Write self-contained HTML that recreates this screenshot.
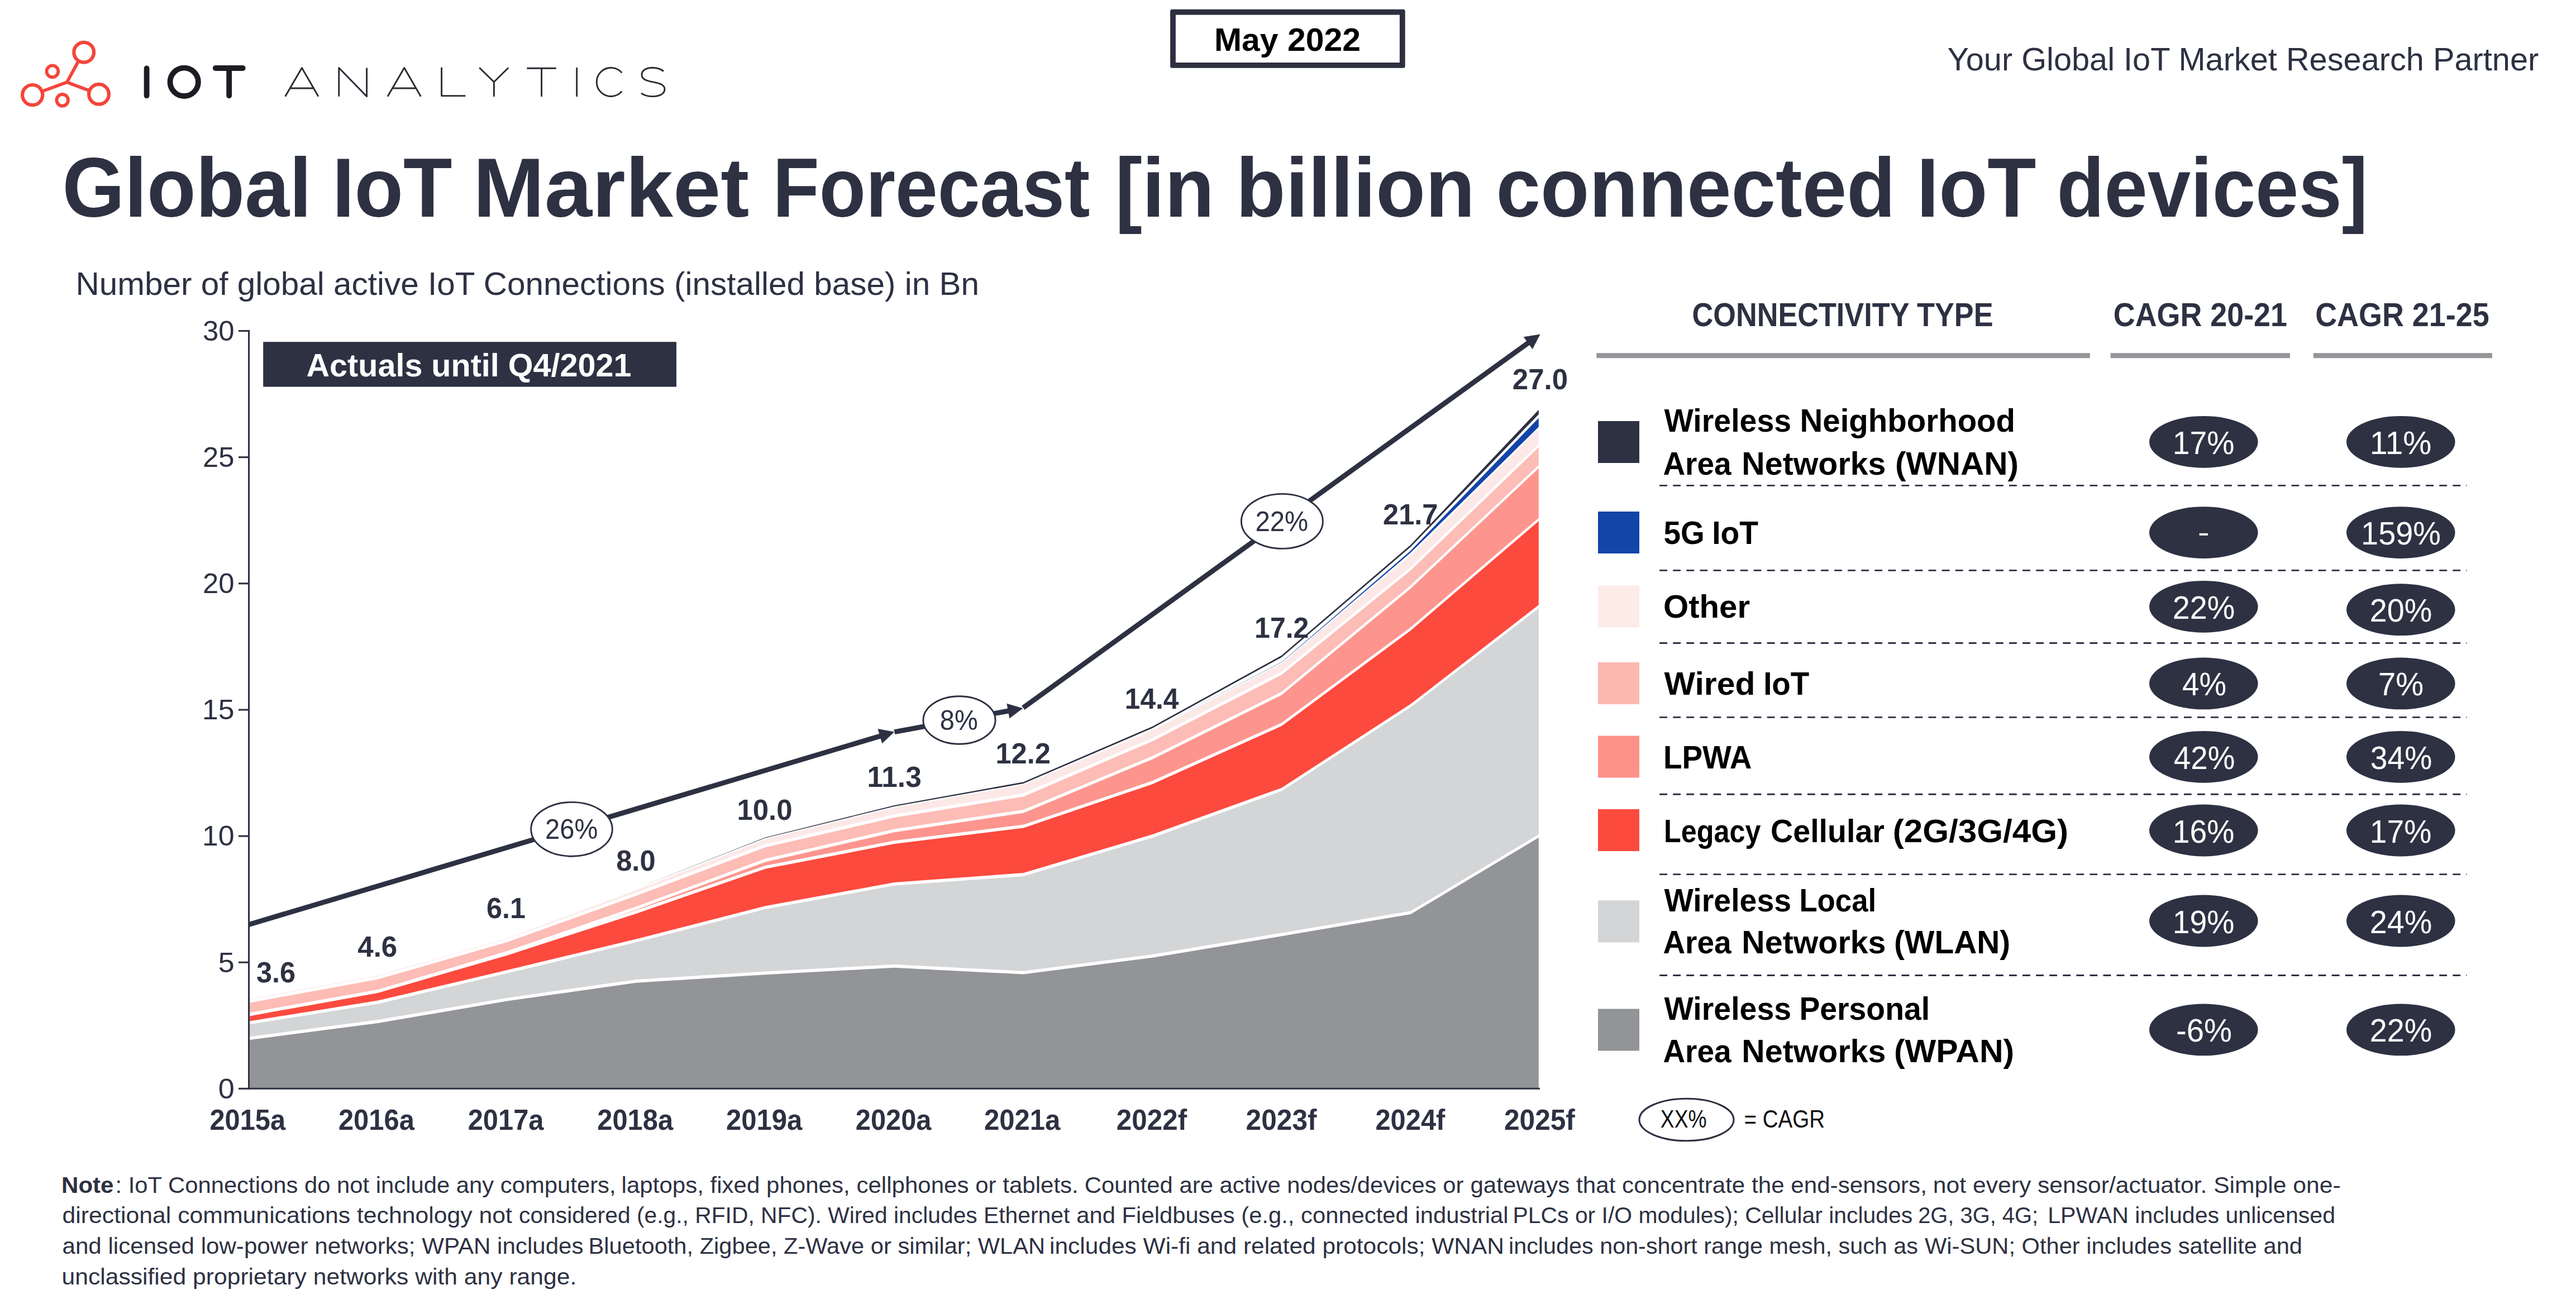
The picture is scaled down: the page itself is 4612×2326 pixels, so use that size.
<!DOCTYPE html>
<html lang="en"><head><meta charset="utf-8"><title>Global IoT Market Forecast</title>
<style>html,body{margin:0;padding:0;background:#fff}body{width:4612px;height:2326px;overflow:hidden}svg{display:block}text{font-family:"Liberation Sans",sans-serif}</style></head><body>
<svg width="4612" height="2326" viewBox="0 0 4612 2326">
<defs><clipPath id="plot"><rect x="447.2" y="500" width="2307.6" height="1448.5"/></clipPath></defs>
<rect width="4612" height="2326" fill="#fff"/>
<g fill="none" stroke="#f4453a" stroke-width="6.2" stroke-linecap="round">
<circle cx="150.2" cy="93.7" r="17.9"/>
<circle cx="93.9" cy="127.8" r="10.4" stroke-width="5.8"/>
<circle cx="58.2" cy="170.1" r="18.1"/>
<circle cx="111.7" cy="179.3" r="10.3" stroke-width="5.8"/>
<circle cx="177" cy="168.8" r="17.9"/>
<path d="M119.8 147.3 L140.6 109.2 M119.8 147.3 L75.2 163.6 M119.8 147.3 L160 162.2" stroke-width="5.8"/>
</g>
<g fill="none" stroke="#1c1c22" stroke-width="9.8" stroke-linecap="round" stroke-linejoin="round">
<path d="M262.6 122.4 V171.3"/>
<circle cx="329.7" cy="146.8" r="25.2"/>
<path d="M385.8 122 H434.7 M410.2 122 V171.3"/>
</g>
<g fill="none" stroke="#2a2a33" stroke-width="2.9" stroke-linecap="butt" stroke-linejoin="round">
<path d="M510.6 172.7 L540.5 121.6 L570 172.7 M519.5 158 H561.2"/>
<path d="M606.8 172.7 V121.4 L656.6 172.7 V121.4"/>
<path d="M694 172.7 L723.8 121.6 L753.4 172.7 M702.8 158 H744.6"/>
<path d="M790.6 120.7 V171.6 H833.4"/>
<path d="M858.2 121.2 L884.4 146.8 L910.2 121.2 M884.4 146.8 V173"/>
<path d="M943.4 122.2 H995.8 M969.6 122.2 V173"/>
<path d="M1032.7 121 V173"/>
<path d="M1113.4 130.4 A25.6 25.6 0 1 0 1113.4 163.4"/>
<path d="M1188 127.6 C1182 122.5 1175 121.2 1168 121.2 C1157 121.2 1149 126 1149 133.8 C1149 142 1157 144.5 1169 146.8 C1182 149.2 1190 152 1190 159.8 C1190 168 1181 172.6 1169 172.6 C1160 172.6 1153 170.5 1148 166.8"/>
</g>
<rect x="2095.1" y="16.8" width="420.6" height="105" rx="3.5" fill="#2e3040"/><rect x="2104.9" y="26.6" width="401" height="85.4" fill="#fff"/>
<text x="2173.97" y="91.0" font-size="57.5" font-weight="700" fill="#000" textLength="262.05" lengthAdjust="spacingAndGlyphs">May 2022</text>
<text x="3486.50" y="126.4" font-size="56.5" fill="#2d3142" textLength="1058.80" lengthAdjust="spacingAndGlyphs">Your Global IoT Market Research Partner</text>
<text x="111.43" y="387.6" font-size="150" font-weight="700" fill="#2d3142" textLength="446.46" lengthAdjust="spacingAndGlyphs">Global</text>
<text x="594.73" y="387.6" font-size="150" font-weight="700" fill="#2d3142" textLength="214.83" lengthAdjust="spacingAndGlyphs">IoT</text>
<text x="847.13" y="387.6" font-size="150" font-weight="700" fill="#2d3142" textLength="494.20" lengthAdjust="spacingAndGlyphs">Market</text>
<text x="1383.38" y="387.6" font-size="150" font-weight="700" fill="#2d3142" textLength="568.14" lengthAdjust="spacingAndGlyphs">Forecast</text>
<text x="1996.38" y="387.6" font-size="150" font-weight="700" fill="#2d3142" textLength="177.77" lengthAdjust="spacingAndGlyphs">[in</text>
<text x="2212.85" y="387.6" font-size="150" font-weight="700" fill="#2d3142" textLength="427.96" lengthAdjust="spacingAndGlyphs">billion</text>
<text x="2678.41" y="387.6" font-size="150" font-weight="700" fill="#2d3142" textLength="715.24" lengthAdjust="spacingAndGlyphs">connected</text>
<text x="3431.58" y="387.6" font-size="150" font-weight="700" fill="#2d3142" textLength="213.89" lengthAdjust="spacingAndGlyphs">IoT</text>
<text x="3682.50" y="387.6" font-size="150" font-weight="700" fill="#2d3142" textLength="556.53" lengthAdjust="spacingAndGlyphs">devices]</text>
<text x="135.48" y="528.3" font-size="56.5" fill="#2d3142" textLength="1617.53" lengthAdjust="spacingAndGlyphs">Number of global active IoT Connections (installed base) in Bn</text>
<g clip-path="url(#plot)">
<path d="M445.8 1859.2 L676.9 1829.0 L908.0 1789.6 L1139.1 1756.8 L1370.2 1742.4 L1601.3 1729.8 L1832.4 1741.7 L2063.5 1711.8 L2294.6 1673.4 L2525.7 1634.2 L2756.8 1495.7 L2756.8 1948.4 L2525.7 1948.4 L2294.6 1948.4 L2063.5 1948.4 L1832.4 1948.4 L1601.3 1948.4 L1370.2 1948.4 L1139.1 1948.4 L908.0 1948.4 L676.9 1948.4 L445.8 1948.4 Z" fill="#929497"/>
<path d="M445.8 1831.5 L676.9 1794.5 L908.0 1739.9 L1139.1 1684.4 L1370.2 1625.2 L1601.3 1582.9 L1832.4 1566.0 L2063.5 1497.0 L2294.6 1413.6 L2525.7 1263.4 L2756.8 1084.6 L2756.8 1495.7 L2525.7 1634.2 L2294.6 1673.4 L2063.5 1711.8 L1832.4 1741.7 L1601.3 1729.8 L1370.2 1742.4 L1139.1 1756.8 L908.0 1789.6 L676.9 1829.0 L445.8 1859.2 Z" fill="#d3d5d6"/>
<path d="M445.8 1816.5 L676.9 1774.9 L908.0 1707.8 L1139.1 1633.0 L1370.2 1552.8 L1601.3 1508.2 L1832.4 1479.7 L2063.5 1401.0 L2294.6 1297.1 L2525.7 1126.1 L2756.8 928.5 L2756.8 1084.6 L2525.7 1263.4 L2294.6 1413.6 L2063.5 1497.0 L1832.4 1566.0 L1601.3 1582.9 L1370.2 1625.2 L1139.1 1684.4 L908.0 1739.9 L676.9 1794.5 L445.8 1831.5 Z" fill="#fc4a3f"/>
<path d="M445.8 1816.5 L676.9 1774.9 L908.0 1706.0 L1139.1 1626.2 L1370.2 1540.5 L1601.3 1487.4 L1832.4 1452.8 L2063.5 1356.6 L2294.6 1241.6 L2525.7 1050.8 L2756.8 833.7 L2756.8 928.5 L2525.7 1126.1 L2294.6 1297.1 L2063.5 1401.0 L1832.4 1479.7 L1601.3 1508.2 L1370.2 1552.8 L1139.1 1633.0 L908.0 1707.8 L676.9 1774.9 L445.8 1816.5 Z" fill="#fd958e"/>
<path d="M445.8 1793.0 L676.9 1750.6 L908.0 1684.2 L1139.1 1601.1 L1370.2 1514.3 L1601.3 1461.2 L1832.4 1423.5 L2063.5 1324.3 L2294.6 1205.5 L2525.7 1018.4 L2756.8 796.0 L2756.8 833.7 L2525.7 1050.8 L2294.6 1241.6 L2063.5 1356.6 L1832.4 1452.8 L1601.3 1487.4 L1370.2 1540.5 L1139.1 1626.2 L908.0 1706.0 L676.9 1774.9 L445.8 1816.5 Z" fill="#fdbcb6"/>
<path d="M445.8 1787.8 L676.9 1745.4 L908.0 1679.0 L1139.1 1592.8 L1370.2 1501.9 L1601.3 1445.0 L1832.4 1404.2 L2063.5 1306.5 L2294.6 1187.2 L2525.7 992.8 L2756.8 765.5 L2756.8 796.0 L2525.7 1018.4 L2294.6 1205.5 L2063.5 1324.3 L1832.4 1423.5 L1601.3 1461.2 L1370.2 1514.3 L1139.1 1601.1 L908.0 1684.2 L676.9 1750.6 L445.8 1793.0 Z" fill="#fce9e7"/>
<path d="M445.8 1856.3 L676.9 1826.1 L908.0 1786.7 L1139.1 1753.9 L1370.2 1739.5 L1601.3 1726.9 L1832.4 1738.8 L2063.5 1708.9 L2294.6 1670.5 L2525.7 1631.3 L2756.8 1492.8 L2756.8 1498.6 L2525.7 1637.1 L2294.6 1676.3 L2063.5 1714.7 L1832.4 1744.6 L1601.3 1732.7 L1370.2 1745.3 L1139.1 1759.7 L908.0 1792.5 L676.9 1831.9 L445.8 1862.1 Z" fill="#fff"/>
<path d="M445.8 1828.6 L676.9 1791.6 L908.0 1737.0 L1139.1 1681.5 L1370.2 1622.3 L1601.3 1580.0 L1832.4 1563.1 L2063.5 1494.1 L2294.6 1410.7 L2525.7 1260.5 L2756.8 1081.7 L2756.8 1087.5 L2525.7 1266.3 L2294.6 1416.5 L2063.5 1499.9 L1832.4 1568.9 L1601.3 1585.8 L1370.2 1628.1 L1139.1 1687.3 L908.0 1742.8 L676.9 1797.4 L445.8 1834.4 Z" fill="#fff"/>
<path d="M445.8 1813.6 L676.9 1772.0 L908.0 1704.9 L1139.1 1630.1 L1370.2 1549.9 L1601.3 1505.3 L1832.4 1476.8 L2063.5 1398.1 L2294.6 1294.2 L2525.7 1123.2 L2756.8 925.6 L2756.8 931.4 L2525.7 1129.0 L2294.6 1300.0 L2063.5 1403.9 L1832.4 1482.6 L1601.3 1511.1 L1370.2 1555.7 L1139.1 1635.9 L908.0 1710.7 L676.9 1777.8 L445.8 1819.4 Z" fill="#fff"/>
<path d="M445.8 1813.6 L676.9 1772.0 L908.0 1703.1 L1139.1 1623.3 L1370.2 1537.6 L1601.3 1484.5 L1832.4 1449.9 L2063.5 1353.7 L2294.6 1238.7 L2525.7 1047.9 L2756.8 830.8 L2756.8 836.6 L2525.7 1053.7 L2294.6 1244.5 L2063.5 1359.5 L1832.4 1455.7 L1601.3 1490.3 L1370.2 1543.4 L1139.1 1629.1 L908.0 1708.9 L676.9 1777.8 L445.8 1819.4 Z" fill="#fff"/>
<path d="M445.8 1790.1 L676.9 1747.7 L908.0 1681.3 L1139.1 1598.2 L1370.2 1511.4 L1601.3 1458.3 L1832.4 1420.6 L2063.5 1321.4 L2294.6 1202.6 L2525.7 1015.5 L2756.8 793.1 L2756.8 798.9 L2525.7 1021.3 L2294.6 1208.4 L2063.5 1327.2 L1832.4 1426.4 L1601.3 1464.1 L1370.2 1517.2 L1139.1 1604.0 L908.0 1687.1 L676.9 1753.5 L445.8 1795.9 Z" fill="#fff"/>
<path d="M445.8 1786.6 L676.9 1744.2 L908.0 1677.8 L1139.1 1591.6 L1370.2 1500.7 L1601.3 1443.8 L1832.4 1403.0 L2063.5 1305.3 L2294.6 1186.0 L2525.7 991.6 L2756.8 764.3 L2756.8 766.7 L2525.7 994.0 L2294.6 1188.4 L2063.5 1307.7 L1832.4 1405.4 L1601.3 1446.2 L1370.2 1503.1 L1139.1 1594.0 L908.0 1680.2 L676.9 1746.6 L445.8 1789.0 Z" fill="#fff"/>
<path d="M445.8 1787.8 L676.9 1745.4 L908.0 1679.0 L1139.1 1592.8 L1370.2 1501.9 L1601.3 1445.0 L1832.4 1404.2 L2063.5 1305.2 L2294.6 1185.5 L2525.7 986.0 L2756.8 746.3 L2756.8 762.5 L2525.7 989.6 L2294.6 1186.0 L2063.5 1305.2 L1832.4 1404.2 L1601.3 1445.0 L1370.2 1501.9 L1139.1 1592.8 L908.0 1679.0 L676.9 1745.4 L445.8 1787.8 Z" fill="#1344a8"/>
<path d="M445.8 1786.0 L676.9 1743.5 L908.0 1677.0 L1139.1 1590.5 L1370.2 1499.6 L1601.3 1442.1 L1832.4 1400.2 L2063.5 1300.7 L2294.6 1173.6 L2525.7 975.5 L2756.8 731.7 L2756.8 739.8 L2525.7 979.3 L2294.6 1177.0 L2063.5 1303.7 L1832.4 1403.0 L1601.3 1444.0 L1370.2 1500.4 L1139.1 1590.5 L908.0 1677.0 L676.9 1743.5 L445.8 1786.0 Z" fill="#2d3142"/>
</g>
<g stroke="#2d3142" stroke-width="3.1" fill="none">
<path d="M445.6 590.9 V1950.8"/>
<path d="M444 1949.3 H2757"/>
<path d="M427 1949.3 H446"/>
<path d="M427 1723.2 H446"/>
<path d="M427 1497.1 H446"/>
<path d="M427 1271.0 H446"/>
<path d="M427 1044.8 H446"/>
<path d="M427 818.7 H446"/>
<path d="M427 592.5 H446"/>
</g>
<text x="390.65" y="1966.5" font-size="50" fill="#2d3142" textLength="29.02" lengthAdjust="spacingAndGlyphs">0</text>
<text x="390.71" y="1740.5" font-size="50" fill="#2d3142" textLength="29.02" lengthAdjust="spacingAndGlyphs">5</text>
<text x="362.02" y="1514.3" font-size="50" fill="#2d3142" textLength="57.68" lengthAdjust="spacingAndGlyphs">10</text>
<text x="362.06" y="1288.2" font-size="50" fill="#2d3142" textLength="57.64" lengthAdjust="spacingAndGlyphs">15</text>
<text x="363.10" y="1062.0" font-size="50" fill="#2d3142" textLength="56.55" lengthAdjust="spacingAndGlyphs">20</text>
<text x="363.08" y="835.9" font-size="50" fill="#2d3142" textLength="56.59" lengthAdjust="spacingAndGlyphs">25</text>
<text x="363.07" y="609.7" font-size="50" fill="#2d3142" textLength="56.63" lengthAdjust="spacingAndGlyphs">30</text>
<text x="375.42" y="2023.0" font-size="52" font-weight="700" fill="#2d3142" textLength="135.70" lengthAdjust="spacingAndGlyphs">2015a</text>
<text x="605.93" y="2023.0" font-size="52" font-weight="700" fill="#2d3142" textLength="136.00" lengthAdjust="spacingAndGlyphs">2016a</text>
<text x="837.74" y="2023.0" font-size="52" font-weight="700" fill="#2d3142" textLength="135.68" lengthAdjust="spacingAndGlyphs">2017a</text>
<text x="1069.22" y="2023.0" font-size="52" font-weight="700" fill="#2d3142" textLength="136.01" lengthAdjust="spacingAndGlyphs">2018a</text>
<text x="1300.03" y="2023.0" font-size="52" font-weight="700" fill="#2d3142" textLength="136.37" lengthAdjust="spacingAndGlyphs">2019a</text>
<text x="1531.81" y="2023.0" font-size="52" font-weight="700" fill="#2d3142" textLength="135.71" lengthAdjust="spacingAndGlyphs">2020a</text>
<text x="1762.03" y="2023.0" font-size="52" font-weight="700" fill="#2d3142" textLength="136.37" lengthAdjust="spacingAndGlyphs">2021a</text>
<text x="1998.83" y="2023.0" font-size="52" font-weight="700" fill="#2d3142" textLength="126.29" lengthAdjust="spacingAndGlyphs">2022f</text>
<text x="2230.62" y="2023.0" font-size="52" font-weight="700" fill="#2d3142" textLength="126.98" lengthAdjust="spacingAndGlyphs">2023f</text>
<text x="2462.42" y="2023.0" font-size="52" font-weight="700" fill="#2d3142" textLength="124.99" lengthAdjust="spacingAndGlyphs">2024f</text>
<text x="2692.92" y="2023.0" font-size="52" font-weight="700" fill="#2d3142" textLength="126.99" lengthAdjust="spacingAndGlyphs">2025f</text>
<rect x="471.2" y="612.2" width="739.8" height="80.4" fill="#2d3142"/>
<text x="548.50" y="674.2" font-size="56.8" font-weight="700" fill="#fff" textLength="582.11" lengthAdjust="spacingAndGlyphs">Actuals until Q4/2021</text>
<text x="459.02" y="1758.8" font-size="51.5" font-weight="700" fill="#2d3142" textLength="70.16" lengthAdjust="spacingAndGlyphs">3.6</text>
<text x="640.32" y="1713.0" font-size="51.5" font-weight="700" fill="#2d3142" textLength="70.86" lengthAdjust="spacingAndGlyphs">4.6</text>
<text x="871.02" y="1643.5" font-size="51.5" font-weight="700" fill="#2d3142" textLength="70.08" lengthAdjust="spacingAndGlyphs">6.1</text>
<text x="1103.20" y="1558.6" font-size="51.5" font-weight="700" fill="#2d3142" textLength="70.39" lengthAdjust="spacingAndGlyphs">8.0</text>
<text x="1319.43" y="1468.0" font-size="51.5" font-weight="700" fill="#2d3142" textLength="99.13" lengthAdjust="spacingAndGlyphs">10.0</text>
<text x="1552.45" y="1408.8" font-size="51.5" font-weight="700" fill="#2d3142" textLength="97.38" lengthAdjust="spacingAndGlyphs">11.3</text>
<text x="1782.45" y="1366.9" font-size="51.5" font-weight="700" fill="#2d3142" textLength="98.58" lengthAdjust="spacingAndGlyphs">12.2</text>
<text x="2013.82" y="1268.7" font-size="51.5" font-weight="700" fill="#2d3142" textLength="96.69" lengthAdjust="spacingAndGlyphs">14.4</text>
<text x="2246.07" y="1141.6" font-size="51.5" font-weight="700" fill="#2d3142" textLength="97.35" lengthAdjust="spacingAndGlyphs">17.2</text>
<text x="2476.00" y="939.0" font-size="51.5" font-weight="700" fill="#2d3142" textLength="98.52" lengthAdjust="spacingAndGlyphs">21.7</text>
<text x="2707.79" y="697.0" font-size="51.5" font-weight="700" fill="#2d3142" textLength="99.21" lengthAdjust="spacingAndGlyphs">27.0</text>
<path d="M445.7 1655.5 L1577.3 1317.6" stroke="#2d3142" stroke-width="9.0" fill="none"/>
<path d="M1601.3 1310.4 L1579.3 1331.2 L1571.5 1305.1 Z" fill="#2d3142"/>
<path d="M1601.5 1310.6 L1806.8 1272.7" stroke="#2d3142" stroke-width="9.0" fill="none"/>
<path d="M1831.4 1268.2 L1807.3 1286.5 L1802.4 1259.7 Z" fill="#2d3142"/>
<path d="M1831.8 1267.4 L2737.3 613.1" stroke="#2d3142" stroke-width="9.0" fill="none"/>
<path d="M2757.6 598.5 L2743.7 625.3 L2727.7 603.3 Z" fill="#2d3142"/>
<ellipse cx="1023.5" cy="1484.8" rx="72.8" ry="48.4" fill="#fff" stroke="#2d3142" stroke-width="2.9"/>
<text x="976.02" y="1502.0" font-size="50" fill="#2d3142" textLength="94.29" lengthAdjust="spacingAndGlyphs">26%</text>
<ellipse cx="1717.5" cy="1289.5" rx="64.6" ry="42.8" fill="#fff" stroke="#2d3142" stroke-width="2.9"/>
<text x="1682.75" y="1306.8" font-size="50" fill="#2d3142" textLength="67.97" lengthAdjust="spacingAndGlyphs">8%</text>
<ellipse cx="2295.4" cy="933.4" rx="73.0" ry="49.0" fill="#fff" stroke="#2d3142" stroke-width="2.9"/>
<text x="2247.38" y="950.8" font-size="50" fill="#2d3142" textLength="94.85" lengthAdjust="spacingAndGlyphs">22%</text>
<text x="3029.59" y="583.8" font-size="58.8" font-weight="700" fill="#2d3142" textLength="538.91" lengthAdjust="spacingAndGlyphs">CONNECTIVITY TYPE</text>
<text x="3783.79" y="583.8" font-size="58.8" font-weight="700" fill="#2d3142" textLength="311.23" lengthAdjust="spacingAndGlyphs">CAGR 20-21</text>
<text x="4145.20" y="583.8" font-size="58.8" font-weight="700" fill="#2d3142" textLength="311.50" lengthAdjust="spacingAndGlyphs">CAGR 21-25</text>
<rect x="2858.3" y="632.2" width="883.5" height="9" fill="#929497"/>
<rect x="3778.7" y="632.2" width="321.3" height="9" fill="#929497"/>
<rect x="4141.8" y="632.2" width="320.1" height="9" fill="#929497"/>
<rect x="2861.0" y="754.0" width="74.0" height="75.0" fill="#2d3142"/>
<text x="2979.49" y="772.5" font-size="57.5" font-weight="700" fill="#000" textLength="227.60" lengthAdjust="spacingAndGlyphs">Wireless</text>
<text x="3222.56" y="772.5" font-size="57.5" font-weight="700" fill="#000" textLength="385.48" lengthAdjust="spacingAndGlyphs">Neighborhood</text>
<text x="2977.42" y="849.5" font-size="57.5" font-weight="700" fill="#000" textLength="122.18" lengthAdjust="spacingAndGlyphs">Area</text>
<text x="3118.37" y="849.5" font-size="57.5" font-weight="700" fill="#000" textLength="258.15" lengthAdjust="spacingAndGlyphs">Networks</text>
<text x="3392.88" y="849.5" font-size="57.5" font-weight="700" fill="#000" textLength="221.14" lengthAdjust="spacingAndGlyphs">(WNAN)</text>
<ellipse cx="3945.3" cy="791.3" rx="97.3" ry="46.4" fill="#2d3142"/>
<text x="3889.77" y="812.8" font-size="58" fill="#fff" textLength="110.65" lengthAdjust="spacingAndGlyphs">17%</text>
<ellipse cx="4298.3" cy="791.3" rx="97.3" ry="46.4" fill="#2d3142"/>
<text x="4242.75" y="812.8" font-size="58" fill="#fff" textLength="110.66" lengthAdjust="spacingAndGlyphs">11%</text>
<rect x="2861.0" y="916.0" width="74.0" height="75.0" fill="#1344a8"/>
<text x="2978.44" y="973.8" font-size="57.5" font-weight="700" fill="#000" textLength="73.24" lengthAdjust="spacingAndGlyphs">5G</text>
<text x="3065.17" y="973.8" font-size="57.5" font-weight="700" fill="#000" textLength="82.83" lengthAdjust="spacingAndGlyphs">IoT</text>
<ellipse cx="3945.3" cy="953.6" rx="97.3" ry="46.4" fill="#2d3142"/>
<rect x="3937.6" y="954.9" width="15.4" height="3.9" fill="#fff"/>
<ellipse cx="4298.3" cy="953.6" rx="97.3" ry="46.4" fill="#2d3142"/>
<text x="4227.08" y="975.1" font-size="58" fill="#fff" textLength="143.01" lengthAdjust="spacingAndGlyphs">159%</text>
<rect x="2861.0" y="1048.4" width="74.0" height="75.0" fill="#fdebe8"/>
<text x="2978.01" y="1106.0" font-size="57.5" font-weight="700" fill="#000" textLength="155.10" lengthAdjust="spacingAndGlyphs">Other</text>
<ellipse cx="3945.3" cy="1086.3" rx="97.3" ry="46.4" fill="#2d3142"/>
<text x="3889.81" y="1107.8" font-size="58" fill="#fff" textLength="111.57" lengthAdjust="spacingAndGlyphs">22%</text>
<ellipse cx="4298.3" cy="1091.7" rx="97.3" ry="46.4" fill="#2d3142"/>
<text x="4242.81" y="1113.2" font-size="58" fill="#fff" textLength="111.57" lengthAdjust="spacingAndGlyphs">20%</text>
<rect x="2861.0" y="1186.0" width="74.0" height="75.0" fill="#fdb7b1"/>
<text x="2979.52" y="1243.7" font-size="57.5" font-weight="700" fill="#000" textLength="162.91" lengthAdjust="spacingAndGlyphs">Wired</text>
<text x="3157.13" y="1243.7" font-size="57.5" font-weight="700" fill="#000" textLength="82.24" lengthAdjust="spacingAndGlyphs">IoT</text>
<ellipse cx="3945.3" cy="1223.9" rx="97.3" ry="46.4" fill="#2d3142"/>
<text x="3907.09" y="1245.4" font-size="58" fill="#fff" textLength="79.02" lengthAdjust="spacingAndGlyphs">4%</text>
<ellipse cx="4298.3" cy="1223.9" rx="97.3" ry="46.4" fill="#2d3142"/>
<text x="4258.02" y="1245.4" font-size="58" fill="#fff" textLength="81.12" lengthAdjust="spacingAndGlyphs">7%</text>
<rect x="2861.0" y="1317.5" width="74.0" height="75.0" fill="#fd918a"/>
<text x="2977.95" y="1375.9" font-size="57.5" font-weight="700" fill="#000" textLength="158.58" lengthAdjust="spacingAndGlyphs">LPWA</text>
<ellipse cx="3945.3" cy="1355.3" rx="97.3" ry="46.4" fill="#2d3142"/>
<text x="3891.86" y="1376.8" font-size="58" fill="#fff" textLength="109.50" lengthAdjust="spacingAndGlyphs">42%</text>
<ellipse cx="4298.3" cy="1355.3" rx="97.3" ry="46.4" fill="#2d3142"/>
<text x="4243.85" y="1376.8" font-size="58" fill="#fff" textLength="110.52" lengthAdjust="spacingAndGlyphs">34%</text>
<rect x="2861.0" y="1449.0" width="74.0" height="75.0" fill="#fc4a3f"/>
<text x="2979.02" y="1507.5" font-size="57.5" font-weight="700" fill="#000" textLength="173.49" lengthAdjust="spacingAndGlyphs">Legacy</text>
<text x="3170.10" y="1507.5" font-size="57.5" font-weight="700" fill="#000" textLength="203.90" lengthAdjust="spacingAndGlyphs">Cellular</text>
<text x="3388.68" y="1507.5" font-size="57.5" font-weight="700" fill="#000" textLength="314.35" lengthAdjust="spacingAndGlyphs">(2G/3G/4G)</text>
<ellipse cx="3945.3" cy="1487.0" rx="97.3" ry="46.4" fill="#2d3142"/>
<text x="3889.77" y="1508.5" font-size="58" fill="#fff" textLength="110.65" lengthAdjust="spacingAndGlyphs">16%</text>
<ellipse cx="4298.3" cy="1487.0" rx="97.3" ry="46.4" fill="#2d3142"/>
<text x="4242.77" y="1508.5" font-size="58" fill="#fff" textLength="110.65" lengthAdjust="spacingAndGlyphs">17%</text>
<rect x="2861.0" y="1612.4" width="74.0" height="75.0" fill="#d3d5d6"/>
<text x="2979.49" y="1632.2" font-size="57.5" font-weight="700" fill="#000" textLength="227.60" lengthAdjust="spacingAndGlyphs">Wireless</text>
<text x="3221.40" y="1632.2" font-size="57.5" font-weight="700" fill="#000" textLength="137.81" lengthAdjust="spacingAndGlyphs">Local</text>
<text x="2977.42" y="1707.4" font-size="57.5" font-weight="700" fill="#000" textLength="122.18" lengthAdjust="spacingAndGlyphs">Area</text>
<text x="3118.37" y="1707.4" font-size="57.5" font-weight="700" fill="#000" textLength="258.15" lengthAdjust="spacingAndGlyphs">Networks</text>
<text x="3390.96" y="1707.4" font-size="57.5" font-weight="700" fill="#000" textLength="208.18" lengthAdjust="spacingAndGlyphs">(WLAN)</text>
<ellipse cx="3945.3" cy="1649.0" rx="97.3" ry="46.4" fill="#2d3142"/>
<text x="3889.77" y="1670.5" font-size="58" fill="#fff" textLength="110.65" lengthAdjust="spacingAndGlyphs">19%</text>
<ellipse cx="4298.3" cy="1649.0" rx="97.3" ry="46.4" fill="#2d3142"/>
<text x="4242.81" y="1670.5" font-size="58" fill="#fff" textLength="111.57" lengthAdjust="spacingAndGlyphs">24%</text>
<rect x="2861.0" y="1806.5" width="74.0" height="75.0" fill="#929497"/>
<text x="2979.49" y="1825.6" font-size="57.5" font-weight="700" fill="#000" textLength="227.60" lengthAdjust="spacingAndGlyphs">Wireless</text>
<text x="3221.43" y="1825.6" font-size="57.5" font-weight="700" fill="#000" textLength="233.64" lengthAdjust="spacingAndGlyphs">Personal</text>
<text x="2977.42" y="1902.4" font-size="57.5" font-weight="700" fill="#000" textLength="122.18" lengthAdjust="spacingAndGlyphs">Area</text>
<text x="3118.37" y="1902.4" font-size="57.5" font-weight="700" fill="#000" textLength="258.15" lengthAdjust="spacingAndGlyphs">Networks</text>
<text x="3390.97" y="1902.4" font-size="57.5" font-weight="700" fill="#000" textLength="215.17" lengthAdjust="spacingAndGlyphs">(WPAN)</text>
<ellipse cx="3945.3" cy="1843.9" rx="97.3" ry="46.4" fill="#2d3142"/>
<text x="3896.01" y="1865.4" font-size="58" fill="#fff" textLength="100.16" lengthAdjust="spacingAndGlyphs">-6%</text>
<ellipse cx="4298.3" cy="1843.9" rx="97.3" ry="46.4" fill="#2d3142"/>
<text x="4242.81" y="1865.4" font-size="58" fill="#fff" textLength="111.57" lengthAdjust="spacingAndGlyphs">22%</text>
<path d="M2971.2 869.4 H4416.4" stroke="#2d3142" stroke-width="2.9" stroke-dasharray="13.8 10.27" fill="none"/>
<path d="M2971.2 1021.4 H4416.4" stroke="#2d3142" stroke-width="2.9" stroke-dasharray="13.8 10.27" fill="none"/>
<path d="M2971.2 1151.5 H4416.4" stroke="#2d3142" stroke-width="2.9" stroke-dasharray="13.8 10.27" fill="none"/>
<path d="M2971.2 1284.4 H4416.4" stroke="#2d3142" stroke-width="2.9" stroke-dasharray="13.8 10.27" fill="none"/>
<path d="M2971.2 1422.2 H4416.4" stroke="#2d3142" stroke-width="2.9" stroke-dasharray="13.8 10.27" fill="none"/>
<path d="M2971.2 1565.6 H4416.4" stroke="#2d3142" stroke-width="2.9" stroke-dasharray="13.8 10.27" fill="none"/>
<path d="M2971.2 1746.5 H4416.4" stroke="#2d3142" stroke-width="2.9" stroke-dasharray="13.8 10.27" fill="none"/>
<ellipse cx="3019.5" cy="2005" rx="84.5" ry="37.8" fill="#fff" stroke="#2d3142" stroke-width="3.1"/>
<text x="2972.85" y="2019.2" font-size="43.5" fill="#0e0f14" textLength="82.78" lengthAdjust="spacingAndGlyphs">XX%</text>
<text x="3122.41" y="2019.2" font-size="43.5" fill="#0e0f14" textLength="144.70" lengthAdjust="spacingAndGlyphs">= CAGR</text>
<text x="110.00" y="2135.7" font-size="40.5" font-weight="700" fill="#2d3142" textLength="93.52" lengthAdjust="spacingAndGlyphs">Note</text>
<text x="206.48" y="2135.7" font-size="40.5" fill="#2d3142" textLength="896.14" lengthAdjust="spacingAndGlyphs">: IoT Connections do not include any computers,</text>
<text x="1112.59" y="2135.7" font-size="40.5" fill="#2d3142" textLength="818.22" lengthAdjust="spacingAndGlyphs">laptops, fixed phones, cellphones or tablets.</text>
<text x="1941.80" y="2135.7" font-size="40.5" fill="#2d3142" textLength="678.60" lengthAdjust="spacingAndGlyphs">Counted are active nodes/devices or</text>
<text x="2632.40" y="2135.7" font-size="40.5" fill="#2d3142" textLength="817.51" lengthAdjust="spacingAndGlyphs">gateways that concentrate the end-sensors,</text>
<text x="3460.89" y="2135.7" font-size="40.5" fill="#2d3142" textLength="729.71" lengthAdjust="spacingAndGlyphs">not every sensor/actuator. Simple one-</text>
<text x="111.50" y="2190.3" font-size="40.5" fill="#2d3142" textLength="805.50" lengthAdjust="spacingAndGlyphs">directional communications technology not</text>
<text x="929.00" y="2190.3" font-size="40.5" fill="#2d3142" textLength="986.30" lengthAdjust="spacingAndGlyphs">considered (e.g., RFID, NFC). Wired includes Ethernet</text>
<text x="1927.30" y="2190.3" font-size="40.5" fill="#2d3142" textLength="773.31" lengthAdjust="spacingAndGlyphs">and Fieldbuses (e.g., connected industrial</text>
<text x="2708.59" y="2190.3" font-size="40.5" fill="#2d3142" textLength="715.61" lengthAdjust="spacingAndGlyphs">PLCs or I/O modules); Cellular includes</text>
<text x="3434.17" y="2190.3" font-size="40.5" fill="#2d3142" textLength="214.98" lengthAdjust="spacingAndGlyphs">2G, 3G, 4G;</text>
<text x="3666.19" y="2190.3" font-size="40.5" fill="#2d3142" textLength="514.83" lengthAdjust="spacingAndGlyphs">LPWAN includes unlicensed</text>
<text x="111.50" y="2244.8" font-size="40.5" fill="#2d3142" textLength="933.10" lengthAdjust="spacingAndGlyphs">and licensed low-power networks; WPAN includes</text>
<text x="1053.59" y="2244.8" font-size="40.5" fill="#2d3142" textLength="817.52" lengthAdjust="spacingAndGlyphs">Bluetooth, Zigbee, Z-Wave or similar; WLAN</text>
<text x="1879.09" y="2244.8" font-size="40.5" fill="#2d3142" textLength="813.92" lengthAdjust="spacingAndGlyphs">includes Wi-fi and related protocols; WNAN</text>
<text x="2701.00" y="2244.8" font-size="40.5" fill="#2d3142" textLength="733.01" lengthAdjust="spacingAndGlyphs">includes non-short range mesh, such as</text>
<text x="3446.00" y="2244.8" font-size="40.5" fill="#2d3142" textLength="676.00" lengthAdjust="spacingAndGlyphs">Wi-SUN; Other includes satellite and</text>
<text x="110.49" y="2299.6" font-size="40.5" fill="#2d3142" textLength="921.82" lengthAdjust="spacingAndGlyphs">unclassified proprietary networks with any range.</text>
</svg></body></html>
